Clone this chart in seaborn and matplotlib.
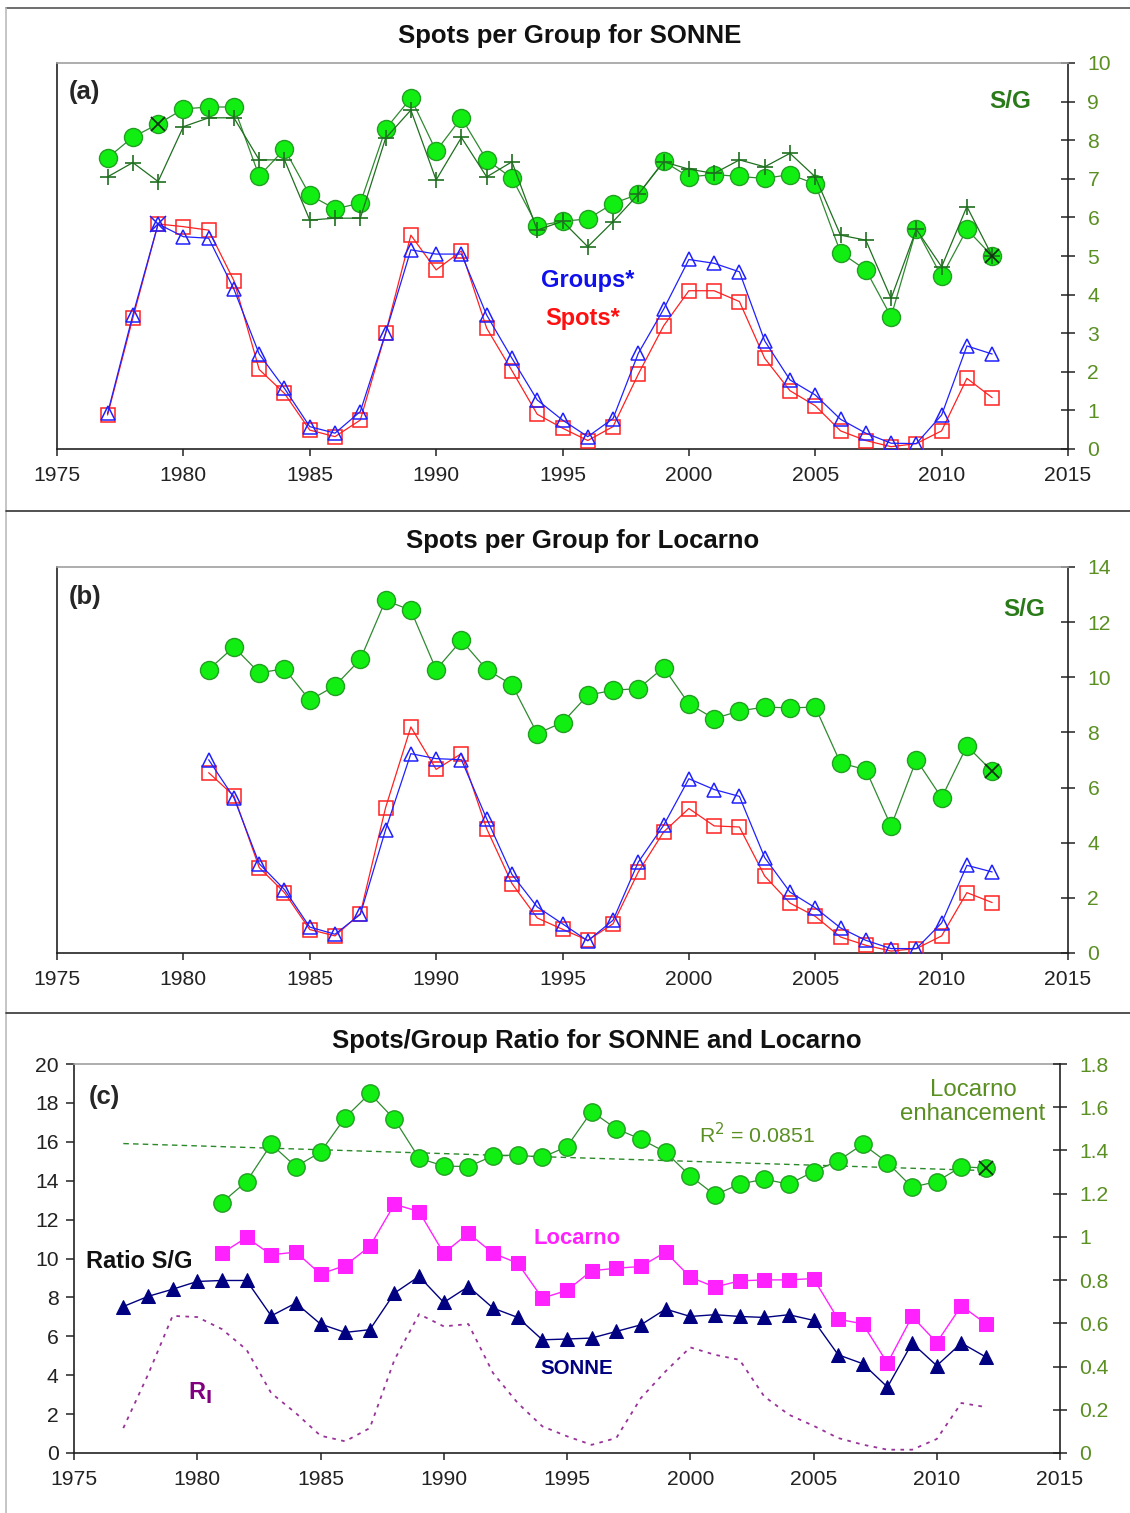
import numpy as np
import matplotlib
matplotlib.use("Agg")
import matplotlib.pyplot as plt
from matplotlib.lines import Line2D
from matplotlib.ticker import FuncFormatter
import seaborn as sns

# ---- data ----
years_sonne = list(range(1977, 2013))
years_loc = list(range(1981, 2013))

# panel (a): SONNE
sonne_sg = [7.54, 8.08, 8.42, 8.81, 8.86, 8.86, 7.07, 7.77, 6.58, 6.22, 6.37, 8.29,
            9.09, 7.72, 8.58, 7.49, 7.02, 5.78, 5.90, 5.96, 6.36, 6.60, 7.45, 7.05,
            7.11, 7.06, 7.01, 7.11, 6.87, 5.09, 4.64, 3.43, 5.69, 4.47, 5.69, 5.00]
sonne_sg_plus = [7.05, 7.42, 6.93, 8.35, 8.58, 8.58, 7.49, 7.49, 5.93, 5.98, 5.98, 8.05,
                 8.78, 6.97, 8.07, 7.05, 7.44, 5.67, 5.90, 5.24, 5.89, 6.60, 7.44, 7.25,
                 7.14, 7.49, 7.31, 7.66, 7.05, 5.54, 5.41, 3.90, 5.69, 4.72, 6.28, 5.00]
sonne_groups = [0.92, 3.47, 5.83, 5.50, 5.46, 4.14, 2.46, 1.57, 0.58, 0.41, 0.97, 3.00,
                5.16, 5.05, 5.05, 3.47, 2.35, 1.27, 0.75, 0.32, 0.79, 2.48, 3.62, 4.91,
                4.81, 4.59, 2.80, 1.79, 1.40, 0.77, 0.41, 0.15, 0.14, 0.88, 2.67, 2.46]
sonne_spots = [0.88, 3.39, 5.83, 5.76, 5.67, 4.36, 2.06, 1.44, 0.49, 0.32, 0.75, 3.00,
               5.54, 4.64, 5.13, 3.13, 2.03, 0.90, 0.54, 0.22, 0.58, 1.94, 3.19, 4.10,
               4.10, 3.82, 2.35, 1.51, 1.12, 0.47, 0.22, 0.06, 0.14, 0.47, 1.83, 1.33]

# panel (b): Locarno
loc_sg = [10.28, 11.10, 10.16, 10.31, 9.17, 9.69, 10.65, 12.79, 12.43, 10.28, 11.34,
          10.28, 9.73, 7.96, 8.36, 9.35, 9.53, 9.59, 10.35, 9.04, 8.50, 8.78, 8.92,
          8.89, 8.92, 6.89, 6.65, 4.60, 7.01, 5.63, 7.51, 6.59]
loc_groups = [7.01, 5.63, 3.24, 2.30, 0.94, 0.68, 1.40, 4.47, 7.23, 7.05, 7.01, 4.87,
              2.85, 1.67, 1.06, 0.44, 1.19, 3.30, 4.63, 6.32, 5.93, 5.68, 3.46, 2.21,
              1.64, 0.91, 0.46, 0.16, 0.16, 1.09, 3.18, 2.94]
loc_spots = [6.54, 5.70, 3.10, 2.19, 0.85, 0.62, 1.43, 5.27, 8.20, 6.66, 7.23, 4.51,
             2.52, 1.27, 0.86, 0.46, 1.06, 2.94, 4.39, 5.24, 4.61, 4.57, 2.79, 1.81,
             1.33, 0.58, 0.28, 0.07, 0.16, 0.62, 2.19, 1.83]

# panel (c): ratios
ratio_sonne = [7.53, 8.05, 8.42, 8.82, 8.87, 8.87, 7.05, 7.71, 6.63, 6.20, 6.34, 8.22,
               9.08, 7.74, 8.56, 7.45, 6.97, 5.82, 5.86, 5.91, 6.25, 6.59, 7.40, 7.02,
               7.11, 7.02, 6.97, 7.11, 6.82, 5.05, 4.59, 3.39, 5.65, 4.49, 5.65, 4.93]
ratio_loc = [10.27, 11.08, 10.19, 10.33, 9.20, 9.64, 10.62, 12.79, 12.41, 10.27, 11.30,
             10.27, 9.76, 7.96, 8.36, 9.37, 9.50, 9.59, 10.33, 9.04, 8.53, 8.85, 8.90,
             8.90, 8.97, 6.88, 6.64, 4.62, 7.02, 5.68, 7.57, 6.64]
enhancement = [1.159, 1.256, 1.429, 1.325, 1.392, 1.552, 1.664, 1.544, 1.364, 1.328,
               1.325, 1.375, 1.379, 1.368, 1.418, 1.580, 1.500, 1.452, 1.392, 1.282,
               1.194, 1.244, 1.267, 1.244, 1.302, 1.352, 1.429, 1.344, 1.230, 1.256,
               1.325, 1.318]
r_i = [1.28, 4.02, 7.05, 6.99, 6.37, 5.31, 3.08, 2.05, 0.89, 0.60, 1.28, 4.79, 7.14,
       6.51, 6.63, 4.11, 2.57, 1.37, 0.86, 0.42, 0.77, 2.83, 4.20, 5.43, 5.05, 4.79,
       2.91, 1.97, 1.40, 0.77, 0.43, 0.17, 0.17, 0.72, 2.57, 2.36]

x_ticks = [1975, 1980, 1985, 1990, 1995, 2000, 2005, 2010, 2015]

# ---- style ----
sns.set_style("white")
plt.rcParams["font.family"] = ["Liberation Sans", "DejaVu Sans"]

W, H = 1130, 1513
fig = plt.figure(figsize=(W / 100, H / 100), dpi=100)

def box(l, t, r, b):
    return [l / W, 1 - b / H, (r - l) / W, (b - t) / H]

def ftext(x, y, s, **kw):
    fig.text(x / W, 1 - y / H, s, **kw)

OLIVE = "#5a8f22"
SG_GREEN = "#2a7a1a"
LIME = "#11ee11"
LINE_GREEN = "#2f8a2f"
PLUS_GREEN = "#1f6f1f"
TICK_FS = 15.2

def style_axes(ax, ymax, ystep):
    ax.set_xlim(1975, 2015)
    ax.set_xticks(x_ticks)
    ax.set_ylim(0, ymax)
    for side in ["left", "bottom", "right"]:
        ax.spines[side].set_color("#222222")
        ax.spines[side].set_linewidth(1.2)
    ax.spines["top"].set_color("#a0a0a0")
    ax.spines["top"].set_linewidth(1.2)
    ax.tick_params(axis="x", direction="out", length=5, width=1.1, labelsize=TICK_FS,
                   pad=7, colors="#222222", bottom=True)
    ax.set_xlabel("")
    ax.set_ylabel("")
    ax.yaxis.tick_right()
    ax.set_yticks(np.arange(0, ymax + 0.01, ystep))
    ax.tick_params(axis="y", which="both", left=False, right=True,
                   direction="inout", length=10, width=1.1, labelsize=TICK_FS,
                   pad=9, labelcolor=OLIVE, color="#222222")
    ax.yaxis.set_major_formatter(FuncFormatter(lambda v, p: "%g" % v))

def circles(ax, x, y, ms=13):
    sns.lineplot(x=x, y=y, ax=ax, color=LINE_GREEN, lw=0.9, marker="o", ms=ms,
                 markerfacecolor=LIME, markeredgecolor="#22a022", markeredgewidth=1.0,
                 errorbar=None, sort=False, zorder=3)

def open_series(ax, x, y, color, marker, ms):
    sns.lineplot(x=x, y=y, ax=ax, color=color, lw=0.9, marker=marker, ms=ms,
                 markerfacecolor="none", markeredgecolor=color, markeredgewidth=1.1,
                 errorbar=None, sort=False, zorder=4)

# ---- panel (a) ----
ax_a = fig.add_axes(box(57, 63, 1068, 449))
open_series(ax_a, years_sonne, sonne_spots, "#ff2020", "s", 9.5)
open_series(ax_a, years_sonne, sonne_groups, "#2020ff", "^", 10.5)
circles(ax_a, years_sonne, sonne_sg)
sns.lineplot(x=years_sonne, y=sonne_sg_plus, ax=ax_a, color=PLUS_GREEN, lw=0.9,
             marker="+", ms=11, markeredgecolor=PLUS_GREEN, markeredgewidth=1.2,
             errorbar=None, sort=False, zorder=5)
ax_a.plot([years_sonne[2], years_sonne[-1]], [sonne_sg[2], sonne_sg[-1]], ls="none",
          marker="x", ms=10, mec="#113311", mew=1.3, zorder=6)
ax_a.plot([years_sonne[2]], [sonne_groups[2]], ls="none", marker="x", ms=11,
          mec="#2020ff", mew=1.1, zorder=6)
style_axes(ax_a, 10, 1)

ftext(570, 36, "Spots per Group for SONNE", ha="center", va="center",
      fontsize=18.5, fontweight="bold", color="#111111")
ftext(69, 92, "(a)", ha="left", va="center", fontsize=18.5, fontweight="bold")
ftext(1010, 102, "S/G", ha="center", va="center", fontsize=17.5, fontweight="bold",
      color=SG_GREEN)
ftext(541, 281, "Groups*", ha="left", va="center", fontsize=17, fontweight="bold",
      color="#1010ee")
ftext(545, 318, "Spots*", ha="left", va="center", fontsize=17, fontweight="bold",
      color="#ff1010")

# ---- panel (b) ----
ax_b = fig.add_axes(box(57, 567, 1068, 953))
open_series(ax_b, years_loc, loc_spots, "#ff2020", "s", 9.5)
open_series(ax_b, years_loc, loc_groups, "#2020ff", "^", 10.5)
circles(ax_b, years_loc, loc_sg)
ax_b.plot([years_loc[-1]], [loc_sg[-1]], ls="none", marker="x", ms=10,
          mec="#113311", mew=1.3, zorder=6)
style_axes(ax_b, 14, 2)

ftext(583, 541, "Spots per Group for Locarno", ha="center", va="center",
      fontsize=18.5, fontweight="bold", color="#111111")
ftext(69, 597, "(b)", ha="left", va="center", fontsize=18.5, fontweight="bold")
ftext(1024, 609, "S/G", ha="center", va="center", fontsize=17.5, fontweight="bold",
      color=SG_GREEN)

# ---- panel (c) ----
ax_c = fig.add_axes(box(74, 1064, 1060, 1453))
sns.lineplot(x=years_sonne, y=r_i, ax=ax_c, color="#993399", lw=1.3,
             linestyle=(0, (2, 3)), errorbar=None, sort=False)
sns.lineplot(x=years_loc, y=ratio_loc, ax=ax_c, color="#ff22ff", lw=1.0, marker="s",
             ms=9.5, markerfacecolor="#ff22ff", markeredgecolor="#ff22ff",
             errorbar=None, sort=False)
sns.lineplot(x=years_sonne, y=ratio_sonne, ax=ax_c, color="#000080", lw=1.0,
             marker="^", ms=10.5, markerfacecolor="#000080", markeredgecolor="#000080",
             errorbar=None, sort=False)
ax_c.set_xlim(1975, 2015)
ax_c.set_xticks(x_ticks)
ax_c.set_ylim(0, 20)
ax_c.set_yticks(np.arange(0, 21, 2))
for side in ["left", "bottom"]:
    ax_c.spines[side].set_color("#222222")
    ax_c.spines[side].set_linewidth(1.2)
ax_c.spines["top"].set_color("#a0a0a0")
ax_c.spines["top"].set_linewidth(1.2)
ax_c.spines["right"].set_visible(False)
ax_c.tick_params(axis="x", direction="out", length=5, width=1.1, labelsize=TICK_FS,
                 pad=7, bottom=True, colors="#222222")
ax_c.tick_params(axis="y", direction="out", length=6, width=1.1, labelsize=TICK_FS,
                 pad=5, left=True, colors="#222222")
ax_c.set_xlabel("")
ax_c.set_ylabel("")

ax_c2 = ax_c.twinx()
coef = np.polyfit(years_loc, enhancement, 1)
trend_x = np.array(years_sonne)
sns.lineplot(x=trend_x, y=np.polyval(coef, trend_x), ax=ax_c2, color="#2a8a2a",
             lw=1.0, linestyle=(0, (4, 3)), errorbar=None)
circles(ax_c2, years_loc, enhancement, ms=12.5)
ax_c2.plot([years_loc[-1]], [enhancement[-1]], ls="none", marker="x", ms=10,
           mec="#113311", mew=1.3, zorder=6)
ax_c2.set_ylim(0, 1.8)
ax_c2.set_yticks(np.arange(0, 1.81, 0.2))
ax_c2.yaxis.set_major_formatter(FuncFormatter(lambda v, p: "%g" % round(v, 1)))
ax_c2.spines["right"].set_color("#222222")
ax_c2.spines["right"].set_linewidth(1.2)
for side in ["left", "top", "bottom"]:
    ax_c2.spines[side].set_visible(False)
ax_c2.tick_params(axis="y", direction="inout", length=10, width=1.1, labelsize=TICK_FS,
                  pad=9, right=True, labelcolor=OLIVE, color="#222222")
ax_c2.set_ylabel("")

ftext(597, 1041, "Spots/Group Ratio for SONNE and Locarno", ha="center", va="center",
      fontsize=18.5, fontweight="bold", color="#111111")
ftext(89, 1097, "(c)", ha="left", va="center", fontsize=18.5, fontweight="bold")
ftext(86, 1261, "Ratio S/G", ha="left", va="center", fontsize=17, fontweight="bold",
      color="#111111")
ftext(577, 1238, "Locarno", ha="center", va="center", fontsize=15.8, fontweight="bold",
      color="#ff22ff")
ftext(577, 1368, "SONNE", ha="center", va="center", fontsize=14.8, fontweight="bold",
      color="#000080")
ftext(200, 1393, r"R$_\mathbf{I}$", ha="center", va="center", fontsize=17,
      fontweight="bold", color="#800080")
ftext(973, 1102, "Locarno\nenhancement", ha="center", va="center", fontsize=17.3,
      color=OLIVE, linespacing=1.1)
ftext(757, 1135, r"R$^2$ = 0.0851", ha="center", va="center", fontsize=15.3,
      color=OLIVE)

# ---- frame lines ----
def fline(x0, y0, x1, y1, color, lw=1.2):
    fig.add_artist(Line2D([x0 / W, x1 / W], [1 - y0 / H, 1 - y1 / H],
                          color=color, lw=lw, transform=fig.transFigure))

fline(6, 8, W, 8, "#555555")
fline(6, 8, 6, H, "#bbbbbb")
fline(6, 511, W, 511, "#333333")
fline(6, 1013, W, 1013, "#333333")

fig.savefig("out.png", dpi=100)
